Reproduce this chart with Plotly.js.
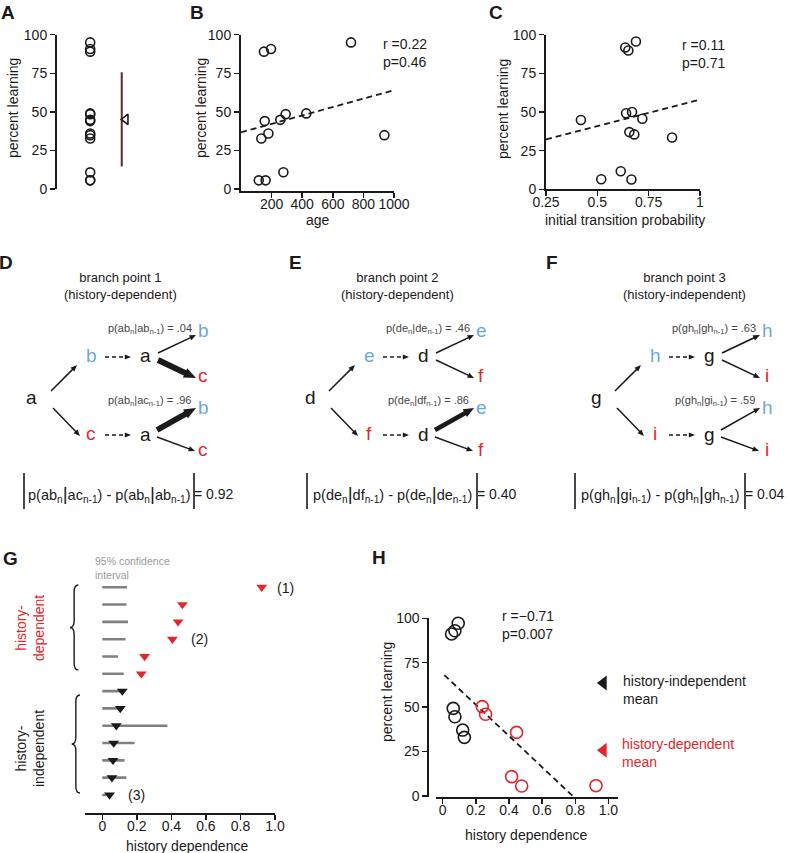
<!DOCTYPE html>
<html>
<head>
<meta charset="utf-8">
<script src="https://cdn.plot.ly/plotly-3.0.1.min.js"></script>
<style>body{margin:0;background:#fff}#chart{width:789px;height:853px}</style>
</head>
<body>
<div id="chart"></div>
<script>
// A + B: percent learning per bird, and age (days)
const ageDays = [719, 196, 150, 155, 179, 133, 257, 292, 427, 937, 116, 161, 277];
const pctLearn = [95, 90.7, 89, 44, 36, 32.7, 44.8, 48.5, 49, 34.9, 5.6, 5.6, 10.8];
// C: initial transition probability
const transProb = [0.688, 0.636, 0.651, 0.420, 0.640, 0.669, 0.719, 0.656, 0.680, 0.864, 0.614, 0.519, 0.666];
const pctC = [95.6, 91.7, 89.8, 44.8, 49.2, 50, 45.6, 37, 35.5, 33.5, 11.7, 6.5, 6.3];
// D-F: branch points
const branchLetters = [['a', 'b', 'c'], ['d', 'e', 'f'], ['g', 'h', 'i']];
const branchType = ['history-dependent', 'history-dependent', 'history-independent'];
const pSame = [0.04, 0.46, 0.63];   // p(x1_n | x1_n-1)
const pOther = [0.96, 0.86, 0.59];  // p(x1_n | x2_n-1)
// G: history dependence per bird, top to bottom, and upper 95% CI
const histDep = [0.923, 0.464, 0.439, 0.406, 0.245, 0.226, 0.116, 0.104, 0.081, 0.066, 0.062, 0.056, 0.042];
const ciUpper = [0.143, 0.14, 0.149, 0.135, 0.091, 0.124, 0.12, 0.11, 0.377, 0.187, 0.129, 0.139, 0.023];
const nDependent = 6;
// H
const hdIndep = [0.094, 0.074, 0.054, 0.064, 0.074, 0.121, 0.131];
const pctIndep = [97.2, 93, 91.2, 49.3, 44.6, 37.1, 33];
const hdDep = [0.239, 0.259, 0.446, 0.416, 0.477, 0.925];
const pctDep = [50.3, 46, 35.8, 10.9, 5.6, 5.8];

const INK = '#1a1a1a', RED = '#e2262c', BLUE = '#6aaad8', GREY = '#808080';
const FONT = '"Liberation Sans", Arial, Helvetica, sans-serif';
const W = 789, H = 853;
const X = p => p / W;
const Y = p => 1 - p / H;

function fit(xs, ys) {
  const n = xs.length;
  const mx = xs.reduce((a, b) => a + b) / n, my = ys.reduce((a, b) => a + b) / n;
  let sxy = 0, sxx = 0;
  xs.forEach((x, i) => { sxy += (x - mx) * (ys[i] - my); sxx += (x - mx) * (x - mx); });
  const m = sxy / sxx;
  return {m: m, b: my - m * mx};
}
const mean = a => a.reduce((s, v) => s + v, 0) / a.length;
const sd = a => { const m = mean(a); return Math.sqrt(a.reduce((s, v) => s + (v - m) * (v - m), 0) / (a.length - 1)); };

const circ = (size, color) => ({symbol: 'circle-open', size: size, color: color, line: {width: 1.6, color: color}});
const dashed = {color: INK, width: 1.8, dash: '6px,4px'};

const traces = [];
// A
const mA = mean(pctLearn), sA = sd(pctLearn);
traces.push({x: pctLearn.map(() => 1), y: pctLearn, mode: 'markers', marker: circ(9, INK), xaxis: 'x', yaxis: 'y'});
traces.push({x: [1.95, 1.95], y: [mA - sA, mA + sA], mode: 'lines', line: {color: '#5e2b2b', width: 2}, xaxis: 'x', yaxis: 'y'});
traces.push({x: [2.07], y: [mA], mode: 'markers', marker: {symbol: 'triangle-left-open', size: 9, color: INK, line: {width: 1.6, color: INK}}, xaxis: 'x', yaxis: 'y'});
// B
const fB = fit(ageDays, pctLearn);
traces.push({x: ageDays, y: pctLearn, mode: 'markers', marker: circ(9, INK), xaxis: 'x2', yaxis: 'y2'});
traces.push({x: [0, 1000], y: [fB.b, fB.b + fB.m * 1000], mode: 'lines', line: dashed, xaxis: 'x2', yaxis: 'y2'});
// C
const fC = fit(transProb, pctC);
traces.push({x: transProb, y: pctC, mode: 'markers', marker: circ(9, INK), xaxis: 'x3', yaxis: 'y3'});
traces.push({x: [0.25, 0.99], y: [fC.b + fC.m * 0.25, fC.b + fC.m * 0.99], mode: 'lines', line: dashed, xaxis: 'x3', yaxis: 'y3'});
// G
const ciX = [], ciY = [];
histDep.forEach((v, i) => { ciX.push(0, ciUpper[i], null); ciY.push(i + 1, i + 1, null); });
traces.push({x: ciX, y: ciY, mode: 'lines', line: {color: GREY, width: 2.6}, xaxis: 'x4', yaxis: 'y4'});
const rows = histDep.map((v, i) => i + 1);
traces.push({x: histDep.slice(0, nDependent), y: rows.slice(0, nDependent), mode: 'markers',
  marker: {symbol: 'triangle-down', size: 9.5, color: RED}, xaxis: 'x4', yaxis: 'y4'});
traces.push({x: histDep.slice(nDependent), y: rows.slice(nDependent), mode: 'markers',
  marker: {symbol: 'triangle-down', size: 9.5, color: INK}, xaxis: 'x4', yaxis: 'y4'});
// H
const allHd = hdIndep.concat(hdDep), allPct = pctIndep.concat(pctDep);
const fH = fit(allHd, allPct);
traces.push({x: [0.01, -fH.b / fH.m], y: [fH.b + fH.m * 0.01, 0], mode: 'lines', line: dashed, xaxis: 'x5', yaxis: 'y5'});
traces.push({x: hdIndep, y: pctIndep, mode: 'markers', marker: circ(12, INK), xaxis: 'x5', yaxis: 'y5'});
traces.push({x: hdDep, y: pctDep, mode: 'markers', marker: circ(12, RED), xaxis: 'x5', yaxis: 'y5'});
traces.push({x: [0.97], y: [mean(pctIndep)], mode: 'markers', marker: {symbol: 'triangle-left', size: 13, color: INK}, xaxis: 'x5', yaxis: 'y5'});
traces.push({x: [0.97], y: [mean(pctDep)], mode: 'markers', marker: {symbol: 'triangle-left', size: 13, color: RED}, xaxis: 'x5', yaxis: 'y5'});
traces.forEach(t => { t.hoverinfo = 'skip'; t.showlegend = false; t.cliponaxis = false; });

// annotations and shapes (positions in page pixels)
const ann = [], shapes = [];
function txt(x, y, text, size, color, extra) {
  ann.push(Object.assign({xref: 'paper', yref: 'paper', x: X(x), y: Y(y), text: text, showarrow: false,
    xanchor: 'center', yanchor: 'middle', font: {family: FONT, size: size || 14, color: color || INK}}, extra || {}));
}
const P = (x, y) => X(x).toFixed(5) + ',' + Y(y).toFixed(5);
function arrow(x0, y0, x1, y1, w, dash) {
  const len = Math.hypot(x1 - x0, y1 - y0), ux = (x1 - x0) / len, uy = (y1 - y0) / len;
  const L = 4.5 + 1.3 * w, hw = L * 0.42;
  const bx = x1 - ux * L, by = y1 - uy * L;
  shapes.push({type: 'line', xref: 'paper', yref: 'paper', x0: X(x0), y0: Y(y0), x1: X(bx + ux), y1: Y(by + uy),
    line: {color: INK, width: w, dash: dash || 'solid'}});
  shapes.push({type: 'path', xref: 'paper', yref: 'paper', fillcolor: INK, line: {width: 0},
    path: 'M' + P(x1, y1) + ' L' + P(bx - uy * hw, by + ux * hw) + ' L' + P(bx + uy * hw, by - ux * hw) + ' Z'});
}
function vbar(x, y0, y1) {
  shapes.push({type: 'line', xref: 'paper', yref: 'paper', x0: X(x), x1: X(x), y0: Y(y0), y1: Y(y1),
    line: {color: INK, width: 1.6}});
}
function brace(xTip, xEnd, y0, y1) {
  const xm = (xTip + xEnd) / 2, ym = (y0 + y1) / 2, d = 7;
  shapes.push({type: 'path', xref: 'paper', yref: 'paper', line: {color: INK, width: 1.4},
    path: 'M' + P(xEnd, y0) + ' Q' + P(xm, y0) + ' ' + P(xm, y0 + d) + ' L' + P(xm, ym - d) +
      ' Q' + P(xm, ym) + ' ' + P(xTip, ym) + ' Q' + P(xm, ym) + ' ' + P(xm, ym + d) +
      ' L' + P(xm, y1 - d) + ' Q' + P(xm, y1) + ' ' + P(xEnd, y1)});
}

// panel letters
[['A', 8, 12], ['B', 197, 12], ['C', 496, 12], ['D', 6, 263], ['E', 295, 263], ['F', 552, 263], ['G', 10, 558], ['H', 379, 557]]
  .forEach(l => txt(l[1], l[2], '<b>' + l[0] + '</b>', 19));

// axis titles
txt(13, 108, 'percent learning', 14, INK, {textangle: -90});
txt(201, 108, 'percent learning', 14, INK, {textangle: -90});
txt(503, 109, 'percent learning', 14, INK, {textangle: -90});
txt(387, 692, 'percent learning', 14, INK, {textangle: -90});
txt(318, 220, 'age');
txt(625, 220, 'initial transition probability');
txt(187, 846, 'history dependence');
txt(526, 835, 'history dependence');

// stats and legend text
txt(381, 53, 'r =0.22<br>p=0.46', 14, INK, {xanchor: 'left', align: 'left'});
txt(680, 54, 'r =0.11<br>p=0.71', 14, INK, {xanchor: 'left', align: 'left'});
txt(500, 625, 'r =\u22120.71<br>p=0.007', 14, INK, {xanchor: 'left', align: 'left'});
txt(621, 690, 'history-independent<br>mean', 14, INK, {xanchor: 'left', align: 'left'});
txt(620, 753, 'history-dependent<br>mean', 14, RED, {xanchor: 'left', align: 'left'});

// G extras
txt(93, 568, '95% confidence<br>interval', 10.5, '#999', {xanchor: 'left', align: 'left'});
txt(285, 588, '(1)');
ann.push({xref: 'x4', yref: 'y4', x: 0.565, y: 4, text: '(2)', showarrow: false, font: {family: FONT, size: 14, color: INK}});
ann.push({xref: 'x4', yref: 'y4', x: 0.2, y: 13, text: '(3)', showarrow: false, font: {family: FONT, size: 14, color: INK}});
txt(30, 628, 'history-<br>dependent', 14, RED, {textangle: -90});
txt(30, 749, 'history-<br>independent', 14, INK, {textangle: -90});
brace(70, 78.3, 585, 670);
brace(71.7, 80, 695, 793);

// D-F diagrams (template positions from panel E, shifted per panel)
const diagDx = [-278, 0, 286], formDx = [-283, 0, 268];
const fmtP = p => p.toFixed(2).replace(/^0/, '');
const thick = p => 1.5 + 12 * Math.max(0, p - 0.6);
const tallBar = '<span style="font-size:19px">|</span>';
branchLetters.forEach((L, k) => {
  const dx = diagDx[k], r = L[0], m1 = L[1], m2 = L[2];
  txt(398 + dx, 286, 'branch point ' + (k + 1) + '<br>(' + branchType[k] + ')', 13);
  const big = 19;
  txt(310 + dx, 397, r, big);
  txt(369 + dx, 355, m1, big, BLUE);
  txt(423 + dx, 355, r, big);
  txt(481 + dx, 330, m1, big, BLUE);
  txt(481 + dx, 375, m2, big, RED);
  txt(369 + dx, 433, m2, big, RED);
  txt(423 + dx, 434, r, big);
  txt(481 + dx, 407, m1, big, BLUE);
  txt(481 + dx, 450, m2, big, RED);
  arrow(329 + dx, 391, 355 + dx, 365, 1.5);
  arrow(331 + dx, 408, 358 + dx, 436, 1.5);
  arrow(383 + dx, 357, 409 + dx, 357, 1.3, '4px,3px');
  arrow(383 + dx, 435, 409 + dx, 435, 1.3, '4px,3px');
  arrow(436 + dx, 353, 474 + dx, 335, thick(pSame[k]));
  arrow(436 + dx, 360, 474 + dx, 378, thick(1 - pSame[k]));
  arrow(435 + dx, 430, 474 + dx, 408, thick(pOther[k]));
  arrow(435 + dx, 437, 473 + dx, 451, thick(1 - pOther[k]));
  txt(472 + dx, 329, 'p(' + r + m1 + '<sub>n</sub>|' + r + m1 + '<sub>n-1</sub>) = ' + fmtP(pSame[k]), 11, '#444', {xanchor: 'right'});
  txt(471 + dx, 401, 'p(' + r + m1 + '<sub>n</sub>|' + r + m2 + '<sub>n-1</sub>) = ' + fmtP(pOther[k]), 11, '#444', {xanchor: 'right'});
  // formula
  const fx = formDx[k];
  vbar(307 + fx, 473, 509);
  vbar(477 + fx, 473, 509);
  txt(392 + fx, 494, 'p(' + r + m1 + '<sub>n</sub>' + tallBar + r + m2 + '<sub>n-1</sub>) - p(' + r + m1 + '<sub>n</sub>' + tallBar + r + m1 + '<sub>n-1</sub>)', 14.5);
  txt(476 + fx, 494, '= ' + Math.abs(pOther[k] - pSame[k]).toFixed(2), 14, INK, {xanchor: 'left', borderpad: 0});
});

const axBase = {showline: true, linewidth: 2, linecolor: INK, ticks: 'outside', ticklen: 5, tickwidth: 1.5,
  tickcolor: INK, showgrid: false, zeroline: false, fixedrange: true, tickfont: {family: FONT, size: 14, color: INK}};
const xBase = Object.assign({}, axBase, {ticklabelstandoff: -6});
const yTicks = {tickvals: [0, 25, 50, 75, 100]};
const hdTicks = {tickvals: [0, 0.2, 0.4, 0.6, 0.8, 1], ticktext: ['0', '0.2', '0.4', '0.6', '0.8', '1.0']};

const layout = {
  width: W, height: H, margin: {l: 0, r: 0, t: 0, b: 0}, paper_bgcolor: '#fff', plot_bgcolor: 'rgba(0,0,0,0)',
  font: {family: FONT, size: 14, color: INK}, showlegend: false,
  xaxis: {visible: false, domain: [X(57), X(140)], range: [0, 2.5], anchor: 'y', fixedrange: true},
  yaxis: Object.assign({}, axBase, yTicks, {domain: [Y(189), Y(34.7)], range: [0, 100], anchor: 'x'}),
  xaxis2: Object.assign({}, xBase, {domain: [X(241), X(394)], range: [0, 1000], tickvals: [200, 400, 600, 800, 1000], anchor: 'y2'}),
  yaxis2: Object.assign({}, axBase, yTicks, {domain: [Y(191.3), Y(34.7)], range: [-1.5, 100], anchor: 'x2'}),
  xaxis3: Object.assign({}, xBase, {domain: [X(546), X(700)], range: [0.25, 1], tickvals: [0.25, 0.5, 0.75, 1], ticktext: ['0.25', '0.5', '0.75', '1'], anchor: 'y3'}),
  yaxis3: Object.assign({}, axBase, yTicks, {domain: [Y(189.3), Y(34.7)], range: [0, 100], anchor: 'x3'}),
  xaxis4: Object.assign({}, xBase, hdTicks, {domain: [X(85), X(275)], range: [-0.1, 1.0], anchor: 'y4'}),
  yaxis4: {visible: false, domain: [Y(813.3), Y(578.6)], range: [14.06, 0.5], anchor: 'x4', fixedrange: true},
  xaxis5: Object.assign({}, xBase, hdTicks, {domain: [X(436), X(617.7)], range: [-0.04, 1.056], anchor: 'y5'}),
  yaxis5: Object.assign({}, axBase, yTicks, {domain: [Y(796.7), Y(618.3)], range: [-0.4, 100], anchor: 'free', position: X(428.3)}),
  annotations: ann,
  shapes: shapes
};

Plotly.newPlot('chart', traces, layout, {staticPlot: true});
</script>
</body>
</html>
